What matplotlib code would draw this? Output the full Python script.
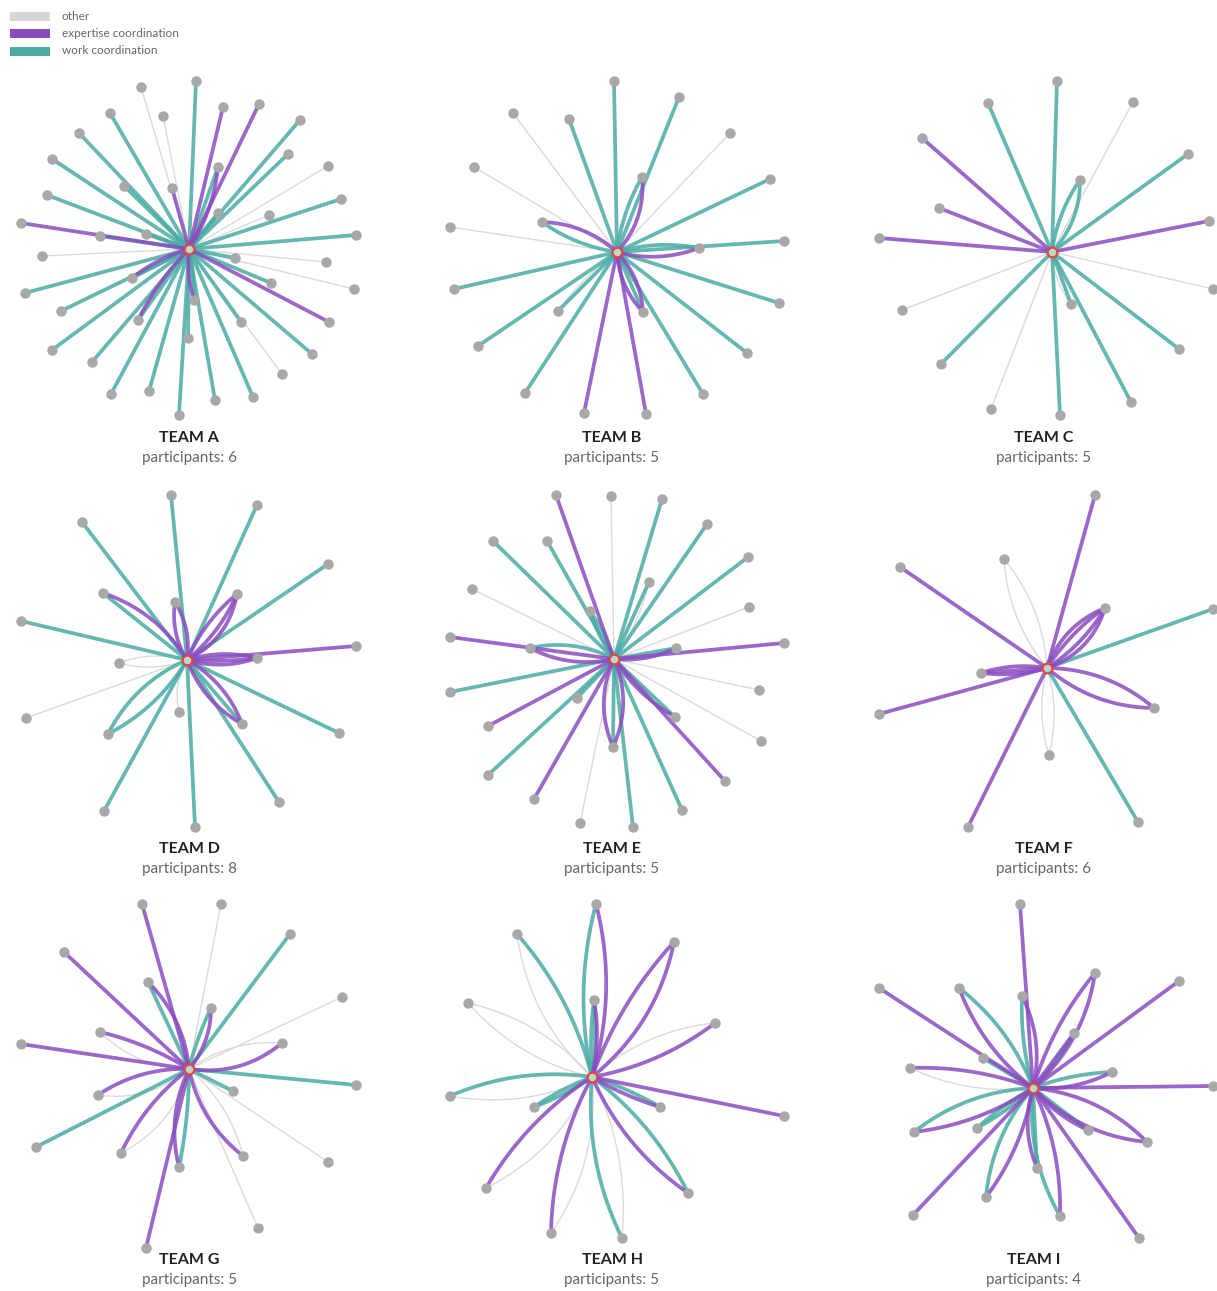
import matplotlib

matplotlib.use("Agg")
import matplotlib.pyplot as plt
import numpy as np

# edges per team: (dx, dy, kind, bend) measured from the team's hub, y down
# kind: "o" other, "e" expertise coordination, "w" work coordination
EDGES_A = [
    (-48, -162, "o", 0), (7, -168, "w", 0), (34, -142, "e", 0), (70, -145, "e", 0),
    (111, -129, "w", 0), (-79, -136, "w", 0), (-26, -133, "o", 0), (-110, -116, "w", 0),
    (99, -95, "w", 0), (139, -83, "o", 0), (-137, -90, "w", 0), (29, -82, "w", 0),
    (29, -82, "e", 0.12), (-65, -63, "w", 0), (-17, -61, "e", 0), (152, -50, "w", 0),
    (-142, -54, "w", 0), (29, -36, "w", 0), (80, -34, "o", 0), (-168, -26, "e", 0),
    (-89, -13, "w", 0), (-43, -15, "w", 0), (167, -14, "w", 0), (-147, 7, "o", 0),
    (46, 9, "w", 0), (137, 13, "o", 0), (165, 40, "o", 0), (82, 34, "w", 0),
    (-164, 44, "w", 0), (-57, 29, "w", 0), (-57, 29, "e", 0.1), (-128, 62, "w", 0),
    (5, 51, "e", 0.1), (5, 51, "w", -0.05), (-51, 71, "e", 0.08), (-51, 71, "w", 0),
    (140, 73, "e", 0), (52, 73, "w", 0), (-1, 89, "w", 0), (-137, 101, "w", 0),
    (123, 105, "w", 0), (-97, 113, "w", 0), (93, 125, "o", 0), (-78, 145, "w", 0),
    (-40, 142, "w", 0), (26, 151, "w", 0), (64, 148, "w", 0), (-10, 166, "w", 0),
]
EDGES_B = [
    (-3, -171, "w", 0), (62, -155, "w", 0), (-104, -139, "o", 0), (-48, -133, "w", 0),
    (113, -119, "o", 0), (-143, -85, "o", 0), (25, -75, "e", 0.22), (25, -75, "w", -0.1),
    (153, -73, "w", 0), (-75, -30, "e", 0.18), (-75, -30, "w", -0.12), (-167, -25, "o", 0),
    (167, -11, "w", 0), (82, -4, "e", 0.16), (82, -4, "w", -0.12), (-163, 37, "w", 0),
    (162, 51, "w", 0), (-59, 59, "w", 0), (-59, 59, "o", 0.08), (26, 60, "e", 0.18),
    (26, 60, "e", -0.18), (26, 60, "w", 0), (-139, 94, "w", 0), (130, 101, "w", 0),
    (-92, 141, "w", 0), (86, 142, "w", 0), (-33, 161, "e", 0), (29, 162, "e", 0),
]
EDGES_C = [
    (5, -171, "w", 0), (-64, -149, "w", 0), (81, -150, "o", 0), (-130, -114, "e", 0),
    (136, -98, "w", 0), (28, -72, "w", 0.2), (28, -72, "w", -0.12), (-113, -44, "e", 0),
    (157, -31, "e", 0), (-173, -14, "e", 0), (161, 37, "o", 0), (-150, 58, "o", 0),
    (19, 52, "o", 0.15), (19, 52, "w", 0), (-111, 112, "w", 0), (127, 97, "w", 0),
    (79, 150, "w", 0), (-61, 157, "o", 0), (8, 163, "w", 0),
]
EDGES_D = [
    (-16, -165, "w", 0), (70, -155, "w", 0), (-105, -138, "w", 0), (141, -96, "w", 0),
    (-84, -67, "w", 0), (-84, -67, "e", 0.18), (-12, -58, "e", 0.18), (-12, -58, "e", -0.18),
    (50, -66, "e", 0.25), (50, -66, "e", 0.12), (50, -66, "e", -0.12), (-166, -39, "w", 0),
    (169, -14, "e", 0), (70, -2, "e", 0.16), (70, -2, "e", -0.14), (70, -2, "e", 0.05),
    (-68, 3, "o", 0.16), (-68, 3, "o", -0.16), (-161, 58, "o", 0), (-8, 52, "o", 0.2),
    (-79, 74, "w", 0.18), (-79, 74, "w", -0.14), (55, 64, "e", 0.18), (55, 64, "e", -0.18),
    (55, 64, "w", 0), (152, 73, "w", 0), (-83, 151, "w", 0), (92, 142, "w", 0),
    (8, 167, "w", 0),
]
EDGES_E = [
    (-58, -164, "e", 0), (-3, -163, "o", 0), (48, -160, "w", 0), (93, -135, "w", 0),
    (-121, -118, "w", 0), (-67, -118, "w", 0), (134, -102, "w", 0), (35, -77, "w", 0),
    (35, -77, "o", 0.1), (-142, -70, "o", 0), (-24, -48, "w", 0.08), (-24, -48, "w", -0.08),
    (135, -52, "o", 0), (-164, -22, "e", 0), (-84, -11, "w", 0.18), (-84, -11, "e", -0.18),
    (62, -11, "e", 0.14), (62, -11, "w", 0), (170, -16, "e", 0), (-164, 33, "w", 0),
    (145, 31, "o", 0), (-37, 39, "w", 0), (-126, 67, "e", 0), (61, 58, "e", 0.12),
    (61, 58, "w", 0), (-1, 88, "e", 0.22), (-1, 88, "e", -0.22), (-1, 88, "w", 0),
    (147, 82, "o", 0), (-126, 116, "w", 0), (111, 122, "e", 0), (-80, 140, "e", 0),
    (68, 151, "w", 0), (-34, 164, "o", 0), (19, 168, "w", 0),
]
EDGES_F = [
    (48, -173, "e", 0), (-147, -101, "e", 0), (-43, -109, "o", 0.16), (-43, -109, "o", -0.16),
    (58, -60, "e", 0.25), (58, -60, "e", 0.12), (58, -60, "e", -0.1), (58, -60, "e", -0.22),
    (166, -59, "w", 0), (-66, 5, "e", 0.12), (-66, 5, "e", 0), (-66, 5, "e", -0.1),
    (-168, 46, "e", 0), (107, 40, "e", 0.18), (107, 40, "e", -0.18), (2, 87, "o", 0.14),
    (2, 87, "o", -0.14), (-79, 159, "e", 0), (91, 154, "w", 0),
]
EDGES_G = [
    (-47, -165, "e", 0), (32, -165, "o", 0), (101, -135, "w", 0), (-125, -117, "e", 0),
    (-41, -87, "e", 0.18), (-41, -87, "w", 0), (153, -72, "o", 0), (22, -61, "e", 0.18),
    (22, -61, "w", -0.05), (-89, -37, "e", 0.08), (-89, -37, "o", -0.2), (-168, -25, "e", 0),
    (93, -26, "e", 0.22), (93, -26, "o", -0.18), (167, 16, "w", 0), (-91, 26, "e", 0.16),
    (-91, 26, "o", -0.22), (44, 22, "w", 0), (44, 22, "o", 0.1), (-153, 78, "w", 0),
    (-68, 84, "e", 0.12), (-68, 84, "o", -0.22), (54, 87, "e", 0.18), (54, 87, "o", -0.16),
    (-10, 98, "e", 0.18), (-10, 98, "w", -0.05), (139, 93, "o", 0), (69, 159, "o", 0),
    (-43, 179, "e", 0),
]
EDGES_H = [
    (4, -173, "e", 0.14), (4, -173, "w", -0.12), (-75, -143, "w", 0.12), (-75, -143, "o", -0.18),
    (82, -135, "e", 0.18), (82, -135, "e", -0.1), (-124, -74, "o", 0.16), (-124, -74, "o", -0.16),
    (2, -77, "e", 0.1), (2, -77, "w", -0.05), (2, -77, "w", 0.05), (123, -54, "e", 0.12),
    (123, -54, "o", -0.16), (-142, 19, "w", 0.14), (-142, 19, "o", -0.16), (-58, 30, "w", 0.06),
    (-58, 30, "w", -0.06), (68, 30, "e", 0.06), (68, 30, "w", -0.06), (192, 39, "e", 0),
    (-106, 111, "e", 0.12), (-106, 111, "o", -0.18), (96, 116, "e", 0.14), (96, 116, "w", -0.12),
    (-41, 156, "e", 0.12), (-41, 156, "o", -0.18), (30, 161, "w", 0.14), (30, 161, "o", -0.14),
]
EDGES_I = [
    (-13, -184, "e", 0), (62, -115, "e", 0.18), (62, -115, "e", -0.1), (146, -107, "e", 0),
    (-154, -100, "e", 0), (-74, -100, "w", 0.14), (-74, -100, "e", -0.14), (-11, -92, "e", 0.18),
    (-11, -92, "w", -0.08), (41, -55, "e", 0), (41, -55, "w", 0.06), (-50, -30, "w", 0),
    (-50, -30, "o", 0.12), (-123, -20, "e", 0.1), (-123, -20, "o", -0.14), (79, -16, "e", 0.14),
    (79, -16, "w", -0.08), (180, -2, "e", 0), (-119, 44, "w", 0.16), (-119, 44, "e", -0.12),
    (-56, 40, "w", 0.06), (-56, 40, "w", -0.06), (55, 42, "w", 0), (55, 42, "e", 0.12),
    (114, 54, "e", 0.18), (114, 54, "e", -0.18), (4, 80, "w", 0), (4, 80, "e", 0.18),
    (-47, 109, "w", 0.16), (-47, 109, "e", -0.12), (27, 128, "w", 0.16), (27, 128, "e", -0.12),
    (-120, 127, "e", 0), (106, 150, "e", 0),
]

TEAM_NAMES = ["TEAM A", "TEAM B", "TEAM C", "TEAM D", "TEAM E", "TEAM F",
              "TEAM G", "TEAM H", "TEAM I"]
PARTICIPANTS = [6, 5, 5, 8, 5, 6, 5, 5, 4]
TEAM_EDGES = [EDGES_A, EDGES_B, EDGES_C, EDGES_D, EDGES_E, EDGES_F,
              EDGES_G, EDGES_H, EDGES_I]

LEGEND_KINDS = ["o", "e", "w"]
LEGEND_LABELS = ["other", "expertise coordination", "work coordination"]

# layout (pixels in the 1217x1291 canvas)
HUBS = [(189, 249), (617, 252), (1052, 252),
        (187, 660), (614, 659), (1047, 668),
        (189, 1069), (592, 1077), (1033, 1088)]
LABEL_X = [189, 612, 1044, 189, 612, 1044, 189, 612, 1034]
LABEL_Y = [438, 438, 438, 849, 849, 849, 1260, 1260, 1260]

COLORS = {"o": "#d6d6d6", "e": "#8a4cbf", "w": "#4aaba5"}
WIDTHS = {"o": 1.0, "e": 2.7, "w": 2.7}
ALPHAS = {"o": 0.9, "e": 0.85, "w": 0.85}
ZORDER = {"o": 1, "w": 2, "e": 3}

plt.rcParams["font.family"] = ["Lato", "DejaVu Sans"]


def edge_path(x0, y0, x1, y1, bend, n=40):
    """Quadratic bezier from hub to node, control point pushed sideways."""
    t = np.linspace(0, 1, n)
    dx, dy = x1 - x0, y1 - y0
    mx, my = (x0 + x1) / 2 - bend * dy, (y0 + y1) / 2 + bend * dx
    xs = (1 - t) ** 2 * x0 + 2 * (1 - t) * t * mx + t ** 2 * x1
    ys = (1 - t) ** 2 * y0 + 2 * (1 - t) * t * my + t ** 2 * y1
    return xs, ys


fig = plt.figure(figsize=(12.17, 12.91), dpi=100)
ax = fig.add_axes([0, 0, 1, 1])
ax.set_xlim(0, 1217)
ax.set_ylim(1291, 0)
ax.axis("off")

for i, edges in enumerate(TEAM_EDGES):
    hx, hy = HUBS[i]
    nodes = []
    for dx, dy, kind, bend in edges:
        xs, ys = edge_path(hx, hy, hx + dx, hy + dy, bend)
        ax.plot(xs, ys, color=COLORS[kind], lw=WIDTHS[kind], alpha=ALPHAS[kind],
                solid_capstyle="round", zorder=ZORDER[kind])
        if (dx, dy) not in nodes:
            nodes.append((dx, dy))
    nx = [hx + p[0] for p in nodes]
    ny = [hy + p[1] for p in nodes]
    ax.plot(nx, ny, "o", ms=7.5, color="#a8a8a8", mec="none", zorder=5)
    ax.plot([hx], [hy], "o", ms=7, mfc="#b9d6cf", mec="#e0483e", mew=1.6, zorder=6)

    ax.text(LABEL_X[i], LABEL_Y[i], TEAM_NAMES[i], ha="center", va="center",
            fontsize=11.5, fontweight="bold", color="#222222")
    ax.text(LABEL_X[i], LABEL_Y[i] + 20, f"participants: {PARTICIPANTS[i]}",
            ha="center", va="center", fontsize=11, color="#666666")

# legend swatches
for j, kind in enumerate(LEGEND_KINDS):
    y = 16 + j * 17.5
    ax.fill_between([10, 50], y - 4.5, y + 4.5, color=COLORS[kind], lw=0)
    ax.text(62, y, LEGEND_LABELS[j], ha="left", va="center",
            fontsize=8.5, color="#666666")

fig.savefig("out.png", dpi=100)
